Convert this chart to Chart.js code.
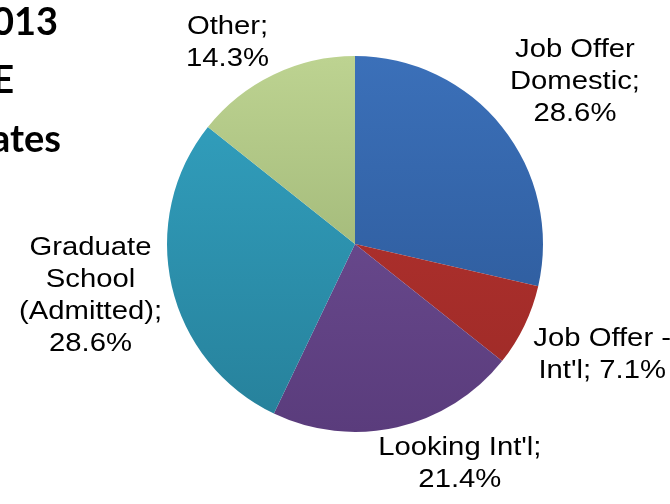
<!DOCTYPE html>
<html>
<head>
<meta charset="utf-8">
<script src="https://cdn.jsdelivr.net/npm/chart.js@4"></script>
<style>
  html, body { margin: 0; padding: 0; background: #ffffff; }
  #wrap { width: 670px; height: 504px; position: relative; }
</style>
</head>
<body>
<div id="wrap"><canvas id="c" width="670" height="504"></canvas></div>
<script>
// ---- data ----
const categories = ["Job Offer\nDomestic", "Job Offer -\nInt'l", "Looking Int'l", "Graduate\nSchool\n(Admitted)", "Other"];
const values = [28.6, 7.1, 21.4, 28.6, 14.3];
const labelSeparators = [";\n", "; ", ";\n", ";\n", ";\n"];
const titleLines = ["2013", "ECE", "Graduates"];

// ---- styles ----
const topColors =    ["#3b70b9", "#b8332f", "#735299", "#33a3c2", "#bdd391"];
const bottomColors = ["#2a5593", "#9c2a27", "#5a3c7c", "#26809a", "#8fa668"];

function sliceGradient(ctx) {
  const chart = ctx.chart;
  const area = chart.chartArea;
  const i = ctx.dataIndex;
  if (!area) return topColors[i];
  const g = chart.ctx.createLinearGradient(0, area.top, 0, area.bottom);
  g.addColorStop(0, topColors[i]);
  g.addColorStop(1, bottomColors[i]);
  return g;
}

const LABEL_FONT = '25px "Liberation Sans", Arial, sans-serif';
const SX = 1.17, CAP = 18, LINE_H = 32, GAP = 10;
const clamp1 = v => Math.max(-1, Math.min(1, v));
const fx = d => clamp1(3.3 * d);
const fy = d => Math.sign(d) * Math.max(0, Math.min(1, (Math.abs(d) - 0.2) * 4));

const outsideLabels = {
  id: 'outsideLabels',
  afterDatasetsDraw(chart) {
    const ctx = chart.ctx;
    const meta = chart.getDatasetMeta(0);
    ctx.save();
    ctx.font = LABEL_FONT;
    ctx.fillStyle = '#000000';
    ctx.textBaseline = 'alphabetic';
    ctx.textAlign = 'center';
    meta.data.forEach((arc, i) => {
      const p = arc.getProps(['x', 'y', 'startAngle', 'endAngle', 'outerRadius'], true);
      const mid = (p.startAngle + p.endAngle) / 2;
      const dx = Math.cos(mid), dy = Math.sin(mid);
      const text = categories[i] + labelSeparators[i] + values[i].toFixed(1) + '%';
      const lines = text.split('\n');
      const w = Math.max(...lines.map(l => ctx.measureText(l).width)) * SX;
      const h = (lines.length - 1) * LINE_H + CAP;
      const ax = p.x + dx * (p.outerRadius + GAP);
      const ay = p.y + dy * (p.outerRadius + GAP);
      const cx = ax + fx(dx) * w / 2;
      const cy = ay + fy(dy) * h / 2;
      const top = cy - h / 2;
      lines.forEach((l, k) => {
        ctx.save();
        ctx.translate(cx, top + CAP + k * LINE_H);
        ctx.scale(SX, 1);
        ctx.fillText(l, 0, 0);
        ctx.restore();
      });
    });
    ctx.restore();
  }
};

const sideTitle = {
  id: 'sideTitle',
  afterDraw(chart) {
    const ctx = chart.ctx;
    ctx.save();
    ctx.font = 'bold 38px Lato, "Open Sans", sans-serif';
    ctx.fillStyle = '#000000';
    ctx.textAlign = 'right';
    ctx.textBaseline = 'alphabetic';
    const rights = [58, 14, 61];
    const bases = [35, 93, 152];
    titleLines.forEach((t, k) => ctx.fillText(t, rights[k], bases[k]));
    ctx.restore();
  }
};

new Chart(document.getElementById('c'), {
  type: 'pie',
  data: {
    labels: categories.map(c => c.replace(/\n/g, ' ')),
    datasets: [{
      data: values,
      backgroundColor: sliceGradient,
      borderWidth: 0
    }]
  },
  options: {
    responsive: false,
    animation: false,
    layout: { padding: { top: 56, bottom: 72, left: 167, right: 127 } },
    plugins: {
      legend: { display: false },
      tooltip: { enabled: false },
      title: { display: false }
    }
  },
  plugins: [outsideLabels, sideTitle]
});
</script>
</body>
</html>
